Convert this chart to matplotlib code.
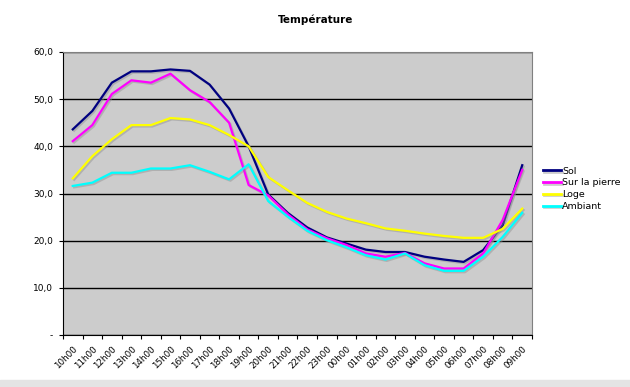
import numpy as np
import matplotlib
matplotlib.use("Agg")
from matplotlib import pyplot as plt
import matplotlib.patheffects as pe
import matplotlib.transforms as mtransforms

# hours of the day, starting at 10h00
heures = ["10h00", "11h00", "12h00", "13h00", "14h00", "15h00", "16h00", "17h00",
          "18h00", "19h00", "20h00", "21h00", "22h00", "23h00", "00h00", "01h00",
          "02h00", "03h00", "04h00", "05h00", "06h00", "07h00", "08h00", "09h00"]

sol = [43.6, 47.5, 53.5, 55.9, 55.9, 56.3, 56.0, 53.1, 48.0, 40.0, 29.8, 25.9,
       22.8, 20.7, 19.4, 18.1, 17.6, 17.6, 16.6, 16.0, 15.5, 18.0, 23.3, 36.0]
pierre = [41.1, 44.5, 51.1, 54.0, 53.5, 55.4, 51.9, 49.4, 45.0, 31.8, 29.6, 25.6,
          22.4, 20.5, 19.1, 17.3, 16.6, 17.4, 15.2, 14.1, 14.1, 17.3, 24.4, 35.0]
loge = [33.2, 37.9, 41.5, 44.5, 44.5, 46.0, 45.7, 44.5, 42.4, 40.0, 33.5, 30.7,
        28.0, 26.1, 24.7, 23.7, 22.6, 22.1, 21.5, 21.0, 20.6, 20.6, 22.5, 26.8]
ambiant = [31.6, 32.3, 34.4, 34.4, 35.3, 35.3, 36.0, 34.6, 33.0, 36.2, 28.4, 25.1,
           22.1, 20.1, 18.6, 16.9, 16.0, 17.3, 14.8, 13.6, 13.6, 16.6, 20.8, 25.9]

series = [("Sol", sol, "#000080"),
          ("Sur la pierre", pierre, "#ff00ff"),
          ("Loge", loge, "#ffff00"),
          ("Ambiant", ambiant, "#00ffff")]

plt.rcParams['font.family'] = ['DejaVu Sans']

fig = plt.figure(figsize=(6.3, 3.87), dpi=100)
fig.patches.append(plt.Rectangle((0, 0), 1, 7 / 387, transform=fig.transFigure,
                                 color="#e4e4e4", zorder=0))
ax = fig.add_axes([63 / 630, 52 / 387, (532 - 63) / 630, (335 - 52) / 387])
ax.set_facecolor("#cccccc")

x = np.arange(len(heures))
shadow = [pe.SimpleLineShadow(offset=(1, -1), shadow_color="#909090", alpha=0.45), pe.Normal()]
for nom, vals, col in series:
    ax.plot(x, vals, color=col, lw=1.6, label=nom, path_effects=shadow)

ax.set_xlim(-0.5, len(heures) - 0.5)
ax.set_ylim(0, 60)
ax.set_yticks(np.arange(0, 61, 10))
ax.set_yticklabels(["-"] + ["%d,0" % v for v in range(10, 61, 10)], fontsize=6.5)
ax.yaxis.grid(True, color="black", lw=1)
ax.set_axisbelow(True)

ax.set_xticks(np.arange(-0.5, len(heures), 1))
ax.set_xticklabels([])
ax.set_xticks(x, minor=True)
labels = ax.set_xticklabels(heures, minor=True, rotation=45, ha="right",
                            rotation_mode="anchor", fontsize=6.3)
decale = mtransforms.ScaledTranslation(-0.07, 0, fig.dpi_scale_trans)
for lab in labels:
    lab.set_transform(lab.get_transform() + decale)
ax.tick_params(axis="x", which="minor", length=0, pad=7)
ax.tick_params(axis="x", which="major", length=3, direction="out")
ax.tick_params(axis="y", length=3, direction="out", pad=4)

for s in ["top", "right"]:
    ax.spines[s].set_color("#808080")
for s in ["left", "bottom"]:
    ax.spines[s].set_color("black")

fig.text(316 / 630, 1 - 20 / 387, "Température", ha="center", va="center",
         fontsize=7.5, fontweight="bold")

leg = ax.legend(loc="upper left", bbox_to_anchor=(1.023, 0.595), frameon=False,
                fontsize=6.8, handlelength=1.9, handletextpad=0.15, labelspacing=0.3,
                borderaxespad=0, borderpad=0)
for h in leg.get_lines():
    h.set_linewidth(2)

fig.savefig("out.png", dpi=100)
